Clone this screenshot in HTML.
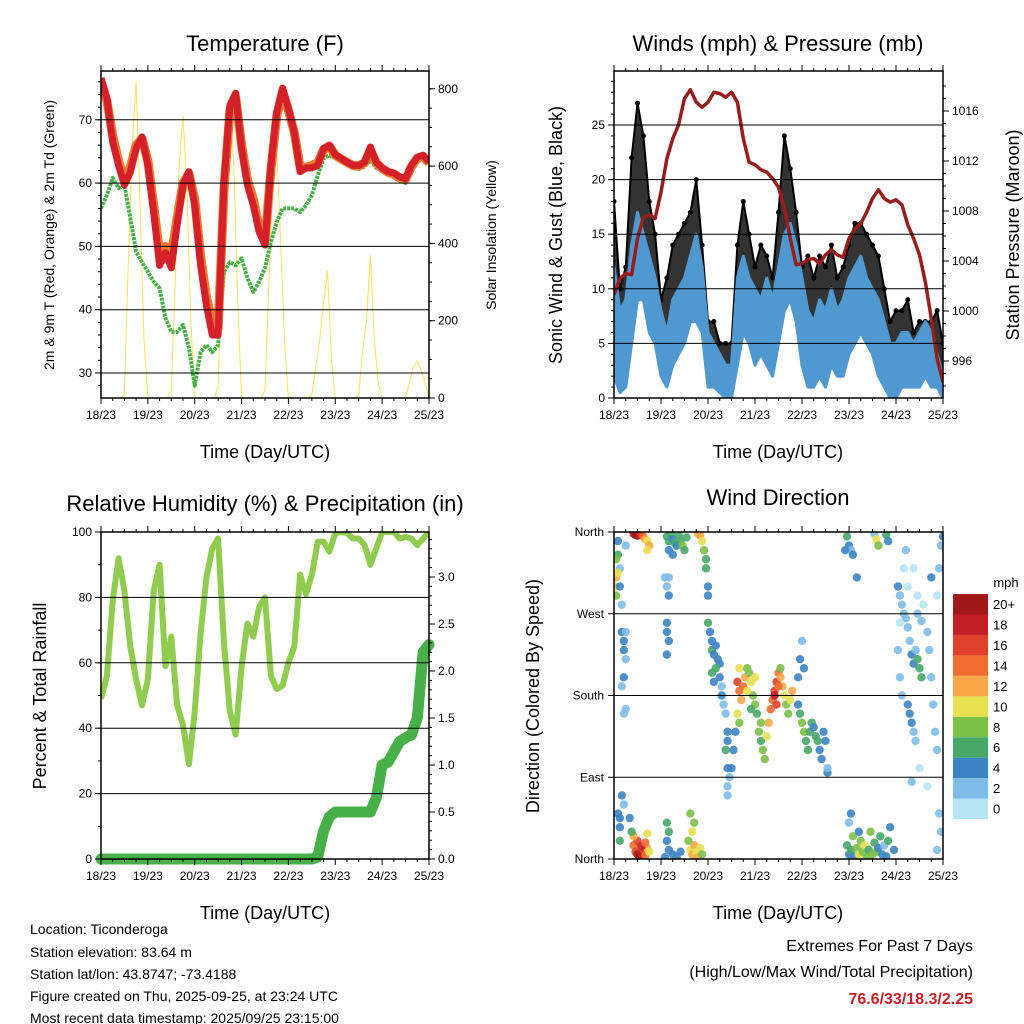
<!DOCTYPE html>
<html><head><meta charset="utf-8"><style>
html,body{margin:0;padding:0;background:#fff}
svg{display:block;font-family:"Liberation Sans",sans-serif}
</style></head><body>
<svg id="c" width="1024" height="1024" viewBox="0 0 1024 1024" xmlns="http://www.w3.org/2000/svg">
<defs>
<clipPath id="cp1"><rect x="101" y="71" width="328" height="327"/></clipPath>
<clipPath id="cp2"><rect x="614" y="71" width="329" height="327"/></clipPath>
<clipPath id="cp3"><rect x="101" y="532" width="328" height="327"/></clipPath>
<clipPath id="cp4"><rect x="614" y="532" width="329" height="327"/></clipPath>
</defs>
<rect width="1024" height="1024" fill="#fff"/>
<g id="g1"></g>
<g id="g2"></g>
<g id="g3"></g>
<g id="g4"></g>
<g font-size="14" fill="#000">
<text x="30" y="934">Location: Ticonderoga</text>
<text x="30" y="957">Station elevation: 83.64 m</text>
<text x="30" y="979">Station lat/lon: 43.8747; -73.4188</text>
<text x="30" y="1001">Figure created on Thu, 2025-09-25, at 23:24 UTC</text>
<text x="30" y="1023">Most recent data timestamp: 2025/09/25 23:15:00</text>
</g>
<g text-anchor="end">
<text x="973" y="951" font-size="16">Extremes For Past 7 Days</text>
<text x="973" y="977" font-size="16">(High/Low/Max Wind/Total Precipitation)</text>
<text x="973" y="1004" font-size="16" font-weight="bold" fill="#c8202a">76.6/33/18.3/2.25</text>
</g>
</svg>
<script>
const hours3=[];for(let i=0;i<=56;i++)hours3.push(i*3);
const hours2=[];for(let i=0;i<=84;i++)hours2.push(i*2);
const dayLabels=["18/23","19/23","20/23","21/23","22/23","23/23","24/23","25/23"];
// Temperature (F)
const temp2m=[76.6,73.4,66.5,62.8,59.7,61.7,65.5,67.3,62.8,55.4,47,49,46.6,53.4,59.7,61.8,56.5,47,40.7,36,36,60.2,72.3,74.2,65.5,59.7,56.5,52.3,50.2,62.8,71.2,75,71.8,68,61.8,62.4,62.4,62.8,65.5,66,64.5,63.9,63.3,62.8,62.8,63.3,65.7,63.3,62.4,61.8,61.6,61,60.7,62.8,64.1,64.4,63.3];
const temp9m=[76,73,67.5,63.5,60.5,62.5,66,67,63.5,56.5,49,50,48.5,54.5,60,61.5,57.5,48.5,42,38,37,59,71.5,73.5,66,60.5,57.5,53,51,62,70.5,74.5,71.5,68,62.5,62.5,62.8,63.2,65.3,65.8,64.4,63.8,63.3,62.8,62.7,63.2,65.2,63.2,62.3,61.7,61.4,60.8,60.6,62.6,63.9,64.2,63.2];
const dewpt=[56,58.1,60.8,59.2,59.7,54.5,49.2,47.5,46,44.4,43.4,38.7,36.5,36.5,37.6,34,28,33.3,34.4,33.3,34.4,46,47.5,47,48.1,45,42.8,44.4,46.6,50.7,53.8,56,56,56,55.4,56.5,58.1,61.2,63.9,64.4,63.9,63.4,62.8,62.4,62.2,62.6,63.6,62.4,62,61.5,61.2,60.5,60,62.3,63.7,64,63];
const solar=[0,0,0,0,0,0,10,350,650,820,500,150,0,0,0,0,0,0,20,300,600,730,550,200,0,0,0,0,0,0,30,350,650,770,600,250,0,0,0,0,0,0,20,300,550,650,400,150,0,0,0,0,0,0,10,80,150,250,330,100,0,0,0,0,0,0,10,120,200,370,150,40,0,0,0,0,0,0,0,40,80,95,70,40,0];
// Winds (mph) & pressure (mb)
const windHigh=[12,8,9,14,17,15,13,11,8,6,9,10,11,13,15,12,6,5,4,3,3,11,13,11,10,9,11,9,12,15,16,14,11,8,7,9,8,10,8,9,11,12,13,11,10,9,7,5,5,6,6,5,6,7,6,4,2];
const windLow=[2,0.5,1,5,9,9,6,5,2,1,3,4,5,7,7,6,1,1,0.5,0,0,3,6,5,3,4,3,2,5,8,9,7,3,1,1,2,1,3,2,2,4,5,6,5,4,2,1,0,0,1,1,1,1,2,1,1,0];
const gustMax=[18,10,12,22,27,24,18,15,9,11,14,15,16,17,20,14,7,7,5,5,5,14,18,15,12,14,13,11,17,24,21,17,12,13,11,13,12,14,11,12,14,16,16,15,14,13,10,7,8,8,9,6,7,7,7,8,5];
const pressure=[1001.3,1002.6,1003,1002.9,1005.8,1007.5,1007.7,1007.4,1009.5,1012.2,1013.8,1014.9,1017,1017.7,1016.7,1016.3,1016.7,1017.5,1017.4,1017.1,1017.5,1016.7,1013.8,1011.9,1011.7,1011.3,1011.1,1010.6,1009.9,1008.2,1005.8,1003.7,1003.8,1004.1,1004.2,1003.8,1004.5,1004.9,1004.5,1004.3,1005.8,1006.6,1007,1007.9,1009,1009.7,1009,1008.7,1008.9,1008.5,1006.9,1005.8,1004.5,1002.3,999.4,996.2,994.3];
// RH & precipitation
const rh=[49,56,79,92,82,65,55,47,55,82,90,59,68,47,41,29,45,69,86,95,98,66,45,38,59,72,68,77,80,56,52,53,60,65,87,81,87,97,97,94,99.7,100,99.7,98,98,96,90,95,100,100,100,98,98.5,98,96,98,100];
const precip=[0,0,0,0,0,0,0,0,0,0,0,0,0,0,0,0,0,0,0,0,0,0,0,0,0,0,0,0,0,0,0,0,0,0,0,0,0,0.02,0.3,0.45,0.5,0.5,0.5,0.5,0.5,0.5,0.5,0.65,1.0,1.03,1.14,1.25,1.29,1.32,1.5,2.2,2.28];
// Wind direction: hour, direction (deg), speed (mph)
const wdHour=[10,11,12,13,14,15,16,17,18,17,10,11,12,13,14,15,16,17,18,12,14,16,10,17,9,8,1,0.5,1,2,2,3,3,4,4,5,5,6,6,5,4,6,5,4,5,3,3,3,2,6,1,2,27,28,29,30,31,32,33,34,35,36,37,28,30,27,28,28,27,27,28,27,26,27,28,30,32,34,27,28,26,43,44,45,46,47,47,48,48,48,38,39,40,41,42,43,44,45,40,41,39,49,50,50,51,52,53,54,52,50,51,54,55,56,57,58,58,57,58,59,58,58,55,63,64,65,63,64,66,67,68,69,70,71,72,73,74,75,76,77,78,79,80,81,82,83,84,85,86,87,88,89,90,91,82,83,84,85,72,68,70,75,64,62,61,60,94,95,96,97,98,99,100,101,102,103,104,105,106,107,108,94,95,96,97,109,109,119,120,121,122,123,124,125,126,127,128,129,130,131,132,133,134,135,136,137,138,139,140,141,143,120,121,125,119,120,121,122,118,124,133,134,135,139,140,145,146,147,148,149,150,151,152,153,154,155,156,157,150,151,152,153,154,147,146,145,148,149,150,155,158,160,161,162,163,164,165,166,167,165,166,167,168,162,165,152,156,160,146,153,155,157];
const wdDir=[358,357,356,357,358,355,352,350,345,340,15,8,5,3,6,10,4,12,8,20,14,18,25,28,30,45,310,300,290,335,350,320,300,280,250,240,230,220,250,200,190,165,160,70,60,20,45,35,50,345,330,315,355,350,358,352,348,345,357,350,345,340,354,340,335,300,310,290,260,250,240,225,310,20,10,5,2,8,40,30,2,358,356,350,340,330,320,300,290,260,20,10,5,15,8,2,12,5,30,40,50,250,240,230,225,235,220,215,210,205,195,200,190,170,160,140,130,120,100,90,80,70,180,195,185,175,160,210,190,200,210,205,195,180,170,160,140,130,120,110,135,150,165,175,185,195,205,200,190,180,170,160,175,185,180,170,190,210,200,185,165,150,150,140,120,100,170,160,150,140,130,120,140,150,145,135,130,120,110,140,130,200,220,240,210,95,100,15,5,10,25,3,12,5,20,8,15,2,10,30,5,18,8,12,25,5,15,3,20,35,10,40,50,30,355,345,340,335,340,310,358,352,345,357,350,300,290,280,270,265,255,240,225,215,230,220,210,200,170,160,150,140,130,180,200,230,320,340,300,290,280,250,230,200,170,140,120,50,30,10,320,345,355,310,290,85,100,80,260,320,270,262];
const wdSpeed=[18,20,19,17,16,14,12,10,12,10,14,16,20,20,18,16,14,12,10,16,18,14,12,10,6,4,12,10,8,6,4,2,4,2,4,4,4,2,2,4,2,2,2,4,2,6,4,4,4,2,8,10,6,6,6,4,6,4,6,6,8,6,6,4,4,2,2,4,4,4,4,4,2,4,4,4,4,4,6,6,4,12,12,10,8,6,6,4,4,6,8,10,12,12,10,12,10,8,10,8,8,4,4,6,4,4,4,4,6,6,4,4,2,2,2,4,4,6,4,2,2,2,4,16,14,12,10,10,14,12,8,8,10,8,8,6,8,6,8,8,10,12,14,14,16,16,14,12,12,10,8,8,10,12,18,16,14,8,10,10,6,8,8,4,4,4,4,6,8,8,6,6,6,6,4,6,6,4,4,4,4,4,4,2,4,4,2,6,4,6,8,4,8,10,8,8,10,8,6,8,8,6,8,4,6,4,2,4,6,4,4,2,4,4,6,4,2,4,4,4,2,10,8,6,4,4,2,2,2,2,2,2,4,4,2,6,6,6,4,4,4,2,2,2,2,2,0,2,0,0,0,2,2,2,2,2,2,2,2,2,2,2,4,4,0,2,0,0,0,0,2,2,4];
const speedBins=["0","2","4","6","8","10","12","14","16","18","20+"];

const NS="http://www.w3.org/2000/svg";
function mk(parent,tag,attrs,name){const e=document.createElementNS(NS,tag);for(const k in attrs)e.setAttribute(k,attrs[k]);


parent.appendChild(e);return e;}
function txt(parent,x,y,s,size,name,anchor,rot){const t=mk(parent,'text',{x:x,y:y,'font-size':size,'text-anchor':anchor||'middle'},name);if(rot)t.setAttribute('transform','rotate('+rot+' '+x+' '+y+')');t.textContent=s;return t;}
const xA=h=>101+h*328/168, xB=h=>614+h*329/168;
const yT=v=>373-(v-30)*6.33, yS=v=>398-v*0.3865, yW=v=>398-v*10.92, yP=v=>311-(v-1000)*12.5;
const yR=v=>859-v*3.27, yPr=v=>859-v*94, yD=v=>859-v*0.9083;
function pts(xs,ys,fx,fy){return xs.map((h,i)=>fx(h).toFixed(1)+','+fy(ys[i]).toFixed(1)).join(' ');}

function frame(g,x0,x1,y0,y1,fx,leftTicks,fyL,leftLabels,rightTicks,fyR,rightLabels,minorL,minorR){
  leftTicks.forEach(v=>{mk(g,'line',{x1:x0,x2:x1,y1:fyL(v),y2:fyL(v),stroke:'#000','stroke-width':1},'gridline');});
  for(let d=0;d<=7;d++){const x=fx(d*24);
    mk(g,'line',{x1:x,x2:x,y1:y1,y2:y1+6,stroke:'#000'},'x-tick');
    mk(g,'line',{x1:x,x2:x,y1:y0,y2:y0-6,stroke:'#000'},'x-tick-top');
    txt(g,x,y1+21,dayLabels[d],12,'x-tick-label');
    if(d<7)for(let k=1;k<4;k++){const xm=fx(d*24+k*6);mk(g,'line',{x1:xm,x2:xm,y1:y1,y2:y1+3,stroke:'#000'},'x-minor-tick');mk(g,'line',{x1:xm,x2:xm,y1:y0,y2:y0-3,stroke:'#000'},'x-minor-tick');}
  }
  leftTicks.forEach((v,i)=>{const y=fyL(v);mk(g,'line',{x1:x0-6,x2:x0,y1:y,y2:y,stroke:'#000'},'y-tick');txt(g,x0-9,y+4,leftLabels[i],12,'y-tick-label','end');});
  minorL.forEach(v=>{const y=fyL(v);if(y>=y0&&y<=y1)mk(g,'line',{x1:x0-3,x2:x0,y1:y,y2:y,stroke:'#000'},'y-minor-tick');});
  rightTicks.forEach((v,i)=>{const y=fyR(v);mk(g,'line',{x1:x1,x2:x1+6,y1:y,y2:y,stroke:'#000'},'y2-tick');txt(g,x1+9,y+4,rightLabels[i],12,'y2-tick-label','start');});
  minorR.forEach(v=>{const y=fyR(v);if(y>=y0&&y<=y1)mk(g,'line',{x1:x1,x2:x1+3,y1:y,y2:y,stroke:'#000'},'y2-minor-tick');});
  mk(g,'rect',{x:x0,y:y0,width:x1-x0,height:y1-y0,fill:'none',stroke:'#000','stroke-width':1.5},'plot-frame');
}
function rng(a,b,s){const r=[];for(let v=a;v<=b+1e-9;v+=s)r.push(+v.toFixed(3));return r;}

// Panel 1
const g1=document.getElementById('g1');
const c1=mk(g1,'g',{'clip-path':'url(#cp1)'},'temp-plot-area');
mk(c1,'polyline',{points:pts(hours2,solar,xA,yS),fill:'none',stroke:'#f8e060','stroke-width':1},'solar-line');
mk(c1,'polyline',{points:pts(hours3,dewpt,xA,yT),fill:'none',stroke:'#48b048','stroke-width':4,'stroke-dasharray':'3 1','stroke-linejoin':'round'},'dewpoint-line');
mk(c1,'polyline',{points:pts(hours3,temp9m,xA,yT),fill:'none',stroke:'#f07830','stroke-width':9,'stroke-linejoin':'round'},'temp-9m-line');
mk(c1,'polyline',{points:pts(hours3,temp2m,xA,yT),fill:'none',stroke:'#d42028','stroke-width':7,'stroke-linejoin':'round'},'temp-2m-line');
frame(g1,101,429,71,398,xA,[30,40,50,60,70],yT,['30','40','50','60','70'],[0,200,400,600,800],yS,['0','200','400','600','800'],rng(26,77,2),rng(0,840,50));
txt(g1,265,51,'Temperature (F)',22,'temp-chart-title');
txt(g1,265,458,'Time (Day/UTC)',18,'temp-x-axis-title');
txt(g1,54,235,'2m & 9m T (Red, Orange) & 2m Td (Green)',14,'temp-y-axis-title','middle',-90);
txt(g1,496,235,'Solar Insolation (Yellow)',14,'solar-y-axis-title','middle',-90);

// Panel 2
const g2=document.getElementById('g2');
const c2=mk(g2,'g',{'clip-path':'url(#cp2)'},'wind-plot-area');
const upper=hours3.map((h,i)=>xB(h).toFixed(1)+','+yW(gustMax[i]).toFixed(1));
const lower=hours3.map((h,i)=>xB(h).toFixed(1)+','+yW(windLow[i]).toFixed(1)).reverse();
const highRev=hours3.map((h,i)=>xB(h).toFixed(1)+','+yW(windHigh[i]).toFixed(1)).reverse();
mk(c2,'polygon',{points:upper.concat(highRev).join(' '),fill:'#000','fill-opacity':0.8,stroke:'#000','stroke-width':2},'gust-band');
hours3.forEach((h,i)=>{mk(c2,'circle',{cx:xB(h),cy:yW(gustMax[i]),r:2.5,fill:'#000'},'gust-point');});
const bu=hours3.map((h,i)=>xB(h).toFixed(1)+','+yW(windHigh[i]).toFixed(1));
mk(c2,'polygon',{points:bu.concat(lower).join(' '),fill:'#5098d0',stroke:'#5098d0','stroke-width':3,'stroke-linejoin':'round'},'sonic-wind-band');
mk(c2,'polyline',{points:pts(hours3,pressure,xB,yP),fill:'none',stroke:'#981e1e','stroke-width':3.5,'stroke-linejoin':'round'},'pressure-line');
frame(g2,614,943,71,398,xB,[0,5,10,15,20,25],yW,['0','5','10','15','20','25'],[996,1000,1004,1008,1012,1016],yP,['996','1000','1004','1008','1012','1016'],rng(0,29,1),rng(994,1018,1));
txt(g2,778,51,'Winds (mph) & Pressure (mb)',22,'winds-chart-title');
txt(g2,778,458,'Time (Day/UTC)',18,'winds-x-axis-title');
txt(g2,562,235,'Sonic Wind & Gust (Blue, Black)',18,'winds-y-axis-title','middle',-90);
txt(g2,1019,235,'Station Pressure (Maroon)',18,'pressure-y-axis-title','middle',-90);

// Panel 3
const g3=document.getElementById('g3');
const c3=mk(g3,'g',{'clip-path':'url(#cp3)'},'rh-plot-area');
mk(c3,'polyline',{points:pts(hours3,rh,xA,yR),fill:'none',stroke:'#90cc50','stroke-width':6,'stroke-linejoin':'round'},'rh-line');
mk(g3,'polyline',{points:pts(hours3,precip,xA,yPr),fill:'none',stroke:'#48b048','stroke-width':11,'stroke-linejoin':'round','stroke-linecap':'round'},'precip-line');
frame(g3,101,429,532,859,xA,[0,20,40,60,80,100],yR,['0','20','40','60','80','100'],[0,0.5,1,1.5,2,2.5,3],yPr,['0.0','0.5','1.0','1.5','2.0','2.5','3.0'],rng(0,100,10),rng(0,3.45,0.1));
txt(g3,265,511,'Relative Humidity (%) & Precipitation (in)',22,'rh-chart-title');
txt(g3,265,919,'Time (Day/UTC)',18,'rh-x-axis-title');
txt(g3,46,696,'Percent & Total Rainfall',18,'rh-y-axis-title','middle',-90);

// Panel 4
const cols=['#b8e4f8','#80bce8','#3c84c4','#48a868','#7cc048','#e8e050','#f8a848','#f06c30','#e0402c','#c41e26','#a01818'];
const g4=document.getElementById('g4');
const c4=mk(g4,'g',{'clip-path':'url(#cp4)'},'direction-plot-area');
const dirTicks=[0,90,180,270,360], dirLabels=['North','East','South','West','North'];
dirTicks.forEach(v=>{mk(g4,'line',{x1:614,x2:943,y1:yD(v),y2:yD(v),stroke:'#000'},'gridline');});
wdHour.forEach((h,i)=>{const bin=Math.min(10,Math.round(wdSpeed[i]/2));
  mk(c4,'circle',{cx:xB(h),cy:yD(wdDir[i]),r:4.2,fill:cols[bin],'fill-opacity':0.9},'direction-point');});
frame(g4,614,943,532,859,xB,[],yD,[],[],yD,[],[],[]);
dirTicks.forEach((v,i)=>{const y=yD(v);mk(g4,'line',{x1:608,x2:614,y1:y,y2:y,stroke:'#000'},'y-tick');txt(g4,604,y+4,dirLabels[i],12,'y-tick-label','end');});
txt(g4,778,505,'Wind Direction',22,'direction-chart-title');
txt(g4,778,919,'Time (Day/UTC)',18,'direction-x-axis-title');
txt(g4,539,696,'Direction (Colored By Speed)',18,'direction-y-axis-title','middle',-90);
const lg=mk(g4,'g',{},'speed-colorbar');
txt(lg,1006,587,'mph',13,'colorbar-title');
speedBins.forEach((s,i)=>{const y=819-(i+1)*20.45;
  mk(lg,'rect',{x:953,y:y,width:35,height:20.45,fill:cols[i]},'colorbar-box');
  txt(lg,993,y+15,s,13,'colorbar-label','start');});
</script>
</body></html>
